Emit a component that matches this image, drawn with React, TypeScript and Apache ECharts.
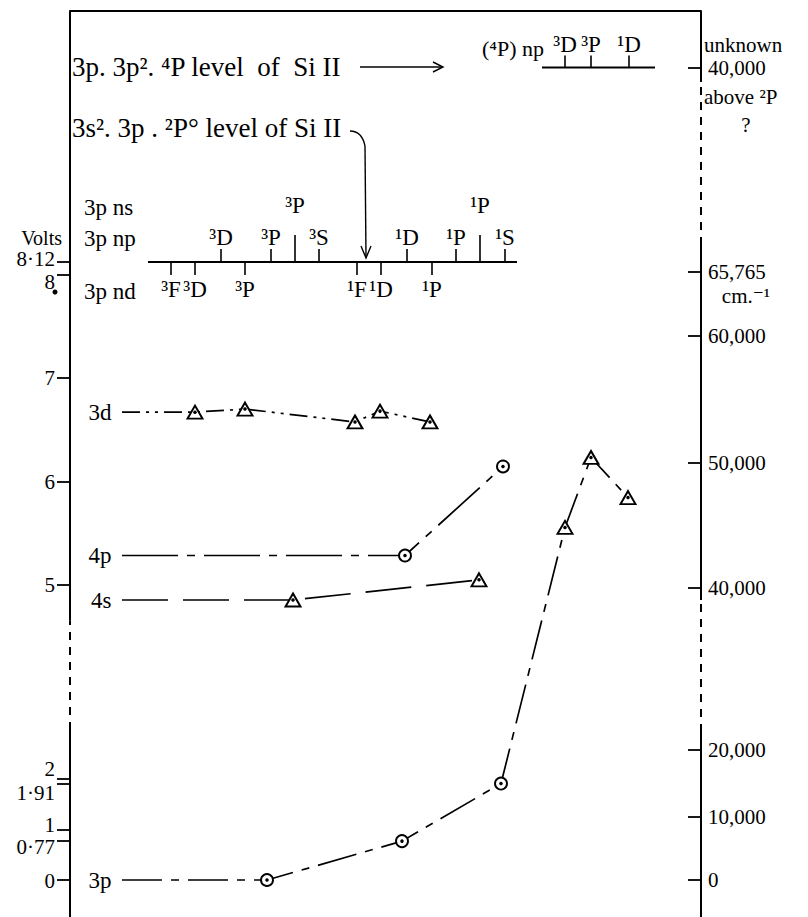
import React, { useEffect, useRef } from 'react';
import * as echarts from 'echarts';

const FONT = '"Liberation Serif", "DejaVu Serif", serif';

// ---------- data ----------
// Energies in volts. The figure uses two volt scales with a break between them.
const leftTickVolts = [8.12, 8, 7, 6, 5, 2, 1.91, 1, 0.77, 0];
const leftTickLabels = ['8·12', '8', '7', '6', '5', '2', '1·91', '1', '0·77', '0'];

// wave-number ticks (cm⁻¹), placed at their equivalent volt height
const rightTickLabels = ['0', '10,000', '20,000', '40,000', '50,000', '60,000', '65,765', '40,000'];
const rightTickVolts = [0, 1.248, 2.574, 4.97, 6.18, 7.406, 8.024, 10];

// series: term position (abscissa) and energy (volts)
const levelNames = ['3d', '4p', '4s', '3p'];
const lineStartX = 122;
const d3X = [195, 245, 355, 380, 430];
const d3V = [6.67, 6.7, 6.575, 6.68, 6.575];
const p4X = [405, 503];
const p4V = [5.285, 6.145];
const s4X = [293, 479];
const s4V = [4.855, 5.05];
const p3X = [267, 402, 501, 565, 591, 628];
const p3V = [0, 0.77, 1.91, 5.556, 6.232, 5.845];
const p3Markers = ['circle', 'circle', 'circle', 'triangle', 'triangle', 'triangle'];

// term scheme at the ionization limit
const ionizationV = 8.12;
const termLineX = [148, 517];
const ndTerms = ['³F', '³D', '³P', '¹F', '¹D', '¹P'];
const ndX = [171, 195, 245, 357, 381, 432];
const npTerms = ['³D', '³P', '³S', '¹D', '¹P', '¹S'];
const npX = [221, 271, 319, 407, 456, 505];
const nsTerms = ['³P', '¹P'];
const nsX = [295, 480];
const quartetV = 10;
const quartetLineX = [542, 655];
const quartetTerms = ['³D', '³P', '¹D'];
const quartetX = [565, 591, 629];

// axis breaks (volts)
const leftBreakV = [2.97, 4.66];
const rightBreaksV = [[2.93, 4.855], [8.285, 9.86]];

// ---------- scale ----------
function toD(v: number) {
  return v < 4 ? v * 50.5 : 295 + (v - 5) * 103.5;
}
const Y_MIN_D = -37;
const Y_MAX_D = 869;
const X_MIN = 70;
const X_MAX = 701;

const leftTickD = leftTickVolts.map(toD);
const rightTickD = rightTickVolts.map(toD);
const leftShift = [-3, 7, 0, 0, 0, -10, 9, -5, 6, 1];
// labels that sit right next to another one go on a second (label-only) axis
const secondRow = [1, 6, 8];
const rowA = leftTickD.map((_, i) => i).filter((i) => secondRow.indexOf(i) < 0);

function nearest(arr: number[], v: number) {
  let bi = 0;
  let bd = Infinity;
  arr.forEach((a, i) => {
    const d = Math.abs(a - v);
    if (d < bd) { bd = d; bi = i; }
  });
  return bi;
}

const leftRich: any = {};
leftShift.forEach((s, i) => {
  leftRich['l' + i] = {
    fontSize: 21, fontFamily: FONT, color: '#000', lineHeight: 17,
    padding: s < 0 ? [0, 0, -2 * s, 0] : [2 * s, 0, 0, 0],
  };
});

function leftLabelAxis(indices: number[], showTicks: boolean) {
  return {
    type: 'value', min: Y_MIN_D, max: Y_MAX_D, position: 'left', offset: 0,
    axisLine: { show: false, onZero: false },
    axisTick: {
      show: showTicks, length: 13, customValues: leftTickD,
      lineStyle: { color: '#000', width: 1.8 },
    },
    axisLabel: {
      show: true, customValues: indices.map((i) => leftTickD[i]), margin: 15, hideOverlap: false,
      showMinLabel: true, showMaxLabel: true,
      formatter: (v: number) => {
        const i = nearest(leftTickD, v);
        return '{l' + i + '|' + leftTickLabels[i] + '}';
      },
      rich: leftRich,
      fontSize: 21, fontFamily: FONT, color: '#000',
    },
    splitLine: { show: false },
  };
}

type Tick = { x: number; d: number; dir: number; len: number; gap: number; text: string };
const ticks: Tick[] = [
  ...npTerms.map((t, i) => ({ x: npX[i], d: toD(ionizationV), dir: 1, len: 13, gap: 0, text: t })),
  ...nsTerms.map((t, i) => ({ x: nsX[i], d: toD(ionizationV), dir: 1, len: 27, gap: 18, text: t })),
  ...ndTerms.map((t, i) => ({ x: ndX[i], d: toD(ionizationV), dir: -1, len: 13, gap: 3, text: t })),
  ...quartetTerms.map((t, i) => ({ x: quartetX[i], d: toD(quartetV), dir: 1, len: 12, gap: 0, text: t })),
];

const axisSegs: number[][] = [];
axisSegs.push([X_MIN, Y_MIN_D, toD(leftBreakV[0]), 0]);
axisSegs.push([X_MIN, toD(leftBreakV[0]), toD(leftBreakV[1]), 1]);
axisSegs.push([X_MIN, toD(leftBreakV[1]), Y_MAX_D, 0]);
{
  let last = Y_MIN_D;
  rightBreaksV.forEach(([a, b]) => {
    axisSegs.push([X_MAX, last, toD(a), 0]);
    axisSegs.push([X_MAX, toD(a), toD(b), 1]);
    last = toD(b);
  });
  axisSegs.push([X_MAX, last, Y_MAX_D, 0]);
}

function levelSeries(name: string, xs: number[], vs: number[], markers: string[], dash: number[]) {
  const data: any[] = [
    { value: [lineStartX, toD(vs[0])], symbol: 'none' },
    ...xs.map((x, i) => ({
      value: [x, toD(vs[i])],
      symbol: markers[i],
      symbolSize: markers[i] === 'triangle' ? [15, 13] : 12,
    })),
  ];
  return {
    type: 'line',
    name,
    data,
    clip: false,
    lineStyle: { color: '#000', width: 1.7, type: dash },
    itemStyle: { color: '#fff', borderColor: '#000', borderWidth: 1.9 },
    z: 3,
  };
}

const levelStarts = [d3V[0], p4V[0], s4V[0], p3V[0]];

const dotPoints: number[][] = [];
[[d3X, d3V], [p4X, p4V], [s4X, s4V], [p3X, p3V]].forEach(([xs, vs]) => {
  xs.forEach((x, i) => dotPoints.push([x, toD(vs[i])]));
});

function txt(text: string, x: number, y: number, fontSize: number, align = 'left') {
  return {
    type: 'text', x, y, z: 10,
    style: { text, fontSize, fontFamily: FONT, fill: '#000', align, verticalAlign: 'middle' },
  };
}

export default function App() {
  const ref = useRef<HTMLDivElement>(null);
  useEffect(() => {
    if (!ref.current) return;
    const chart = echarts.init(ref.current, null, { renderer: 'svg' });
    const option: any = {
      animation: false,
      backgroundColor: '#fff',
      grid: { left: X_MIN, right: 808 - X_MAX, top: 11, bottom: 0, containLabel: false },
      xAxis: {
        type: 'value', min: X_MIN, max: X_MAX, position: 'top',
        axisLine: { show: true, onZero: false, lineStyle: { color: '#000', width: 2 } },
        axisTick: { show: false }, axisLabel: { show: false }, splitLine: { show: false },
      },
      yAxis: [
        leftLabelAxis(rowA, true),
        {
          type: 'value', min: Y_MIN_D, max: Y_MAX_D, position: 'right',
          axisLine: { show: false, onZero: false },
          axisTick: { show: true, inside: true, length: 13, customValues: rightTickD, lineStyle: { color: '#000', width: 1.8 } },
          axisLabel: {
            show: true, customValues: rightTickD, margin: 7, hideOverlap: false,
            showMinLabel: true, showMaxLabel: true,
            formatter: (v: number) => rightTickLabels[nearest(rightTickD, v)],
            fontSize: 21, fontFamily: FONT, color: '#000',
          },
          splitLine: { show: false },
        },
        leftLabelAxis(secondRow, false),
      ],
      series: [
        {
          type: 'custom',
          name: 'axes',
          data: axisSegs.map((s) => [s[0], s[1]]),
          clip: false,
          renderItem: (params: any, api: any) => {
            const s = axisSegs[params.dataIndex];
            const p1 = api.coord([s[0], s[1]]);
            const p2 = api.coord([s[0], s[2]]);
            return {
              type: 'line',
              shape: { x1: p1[0], y1: p1[1], x2: p2[0], y2: p2[1] },
              style: { stroke: '#000', lineWidth: 2, lineDash: s[3] ? [8, 7] : null },
            };
          },
          z: 2,
        },
        {
          type: 'line', name: 'limit', clip: false, symbol: 'none',
          data: termLineX.map((x) => [x, toD(ionizationV)]),
          lineStyle: { color: '#000', width: 2 }, z: 2,
        },
        {
          type: 'line', name: 'quartet', clip: false, symbol: 'none',
          data: quartetLineX.map((x) => [x, toD(quartetV)]),
          lineStyle: { color: '#000', width: 2 }, z: 2,
        },
        {
          type: 'custom',
          name: 'terms',
          data: ticks.map((t) => [t.x, t.d]),
          clip: false,
          renderItem: (params: any, api: any) => {
            const t = ticks[params.dataIndex];
            const p = api.coord([t.x, t.d]);
            const y2 = p[1] - t.dir * t.len;
            const ly = t.dir > 0 ? y2 - t.gap : y2 + t.gap;
            return {
              type: 'group',
              children: [
                { type: 'line', shape: { x1: p[0], y1: p[1], x2: p[0], y2 }, style: { stroke: '#000', lineWidth: 1.6 } },
                {
                  type: 'text', x: p[0], y: ly,
                  style: {
                    text: t.text, fill: '#000', fontSize: 23, fontFamily: FONT,
                    align: 'center', verticalAlign: t.dir > 0 ? 'bottom' : 'top',
                  },
                },
              ],
            };
          },
          z: 2,
        },
        levelSeries('3d', d3X, d3V, d3X.map(() => 'triangle'), [18, 6, 3, 6, 3, 6]),
        levelSeries('4p', p4X, p4V, p4X.map(() => 'circle'), [56, 9, 8, 9]),
        levelSeries('4s', s4X, s4V, s4X.map(() => 'triangle'), [46, 15]),
        levelSeries('3p', p3X, p3V, p3Markers, [40, 9, 8, 9]),
        {
          type: 'scatter', name: 'dots', data: dotPoints, symbolSize: 3.5,
          itemStyle: { color: '#000', opacity: 1 }, z: 5, clip: false,
        },
        {
          type: 'scatter', name: 'level labels', clip: false, symbolSize: 1,
          itemStyle: { color: '#000', opacity: 0 },
          data: levelNames.map((n, i) => ({ value: [lineStartX, toD(levelStarts[i])], name: n })),
          label: {
            show: true, position: 'left', distance: 10,
            formatter: (p: any) => p.name,
            fontSize: 23, fontFamily: FONT, color: '#000', opacity: 1,
          },
          z: 6,
        },
      ],
      graphic: [
        txt('Volts', 62, 238, 20, 'right'),
        txt('3p ns', 84, 207, 23),
        txt('3p np', 84, 238, 23),
        txt('3p nd', 84, 291, 23),
        txt('3p. 3p². ⁴P level\u2002of\u2002Si II', 72, 67, 27),
        txt('3s². 3p . ²P° level of Si II', 72, 128, 27),
        txt('(⁴P) np', 482, 48, 22),
        txt('unknown', 704, 45, 21),
        txt('above ²P', 704, 97, 21),
        txt('?', 746, 125, 21, 'center'),
        txt('cm.⁻¹', 746, 296, 21, 'center'),
        { type: 'circle', shape: { cx: 55, cy: 292, r: 2.5 }, style: { fill: '#000' } },
        { type: 'line', shape: { x1: 360, y1: 67, x2: 442, y2: 67 }, style: { stroke: '#000', lineWidth: 1.4 } },
        { type: 'polyline', shape: { points: [[433, 62], [443, 67], [433, 72]] }, style: { stroke: '#000', fill: null, lineWidth: 1.4 } },
        { type: 'bezierCurve', shape: { x1: 350, y1: 131, x2: 365, y2: 146, cpx1: 362, cpy1: 131 }, style: { stroke: '#000', fill: null, lineWidth: 1.4 } },
        { type: 'line', shape: { x1: 365, y1: 146, x2: 366, y2: 257 }, style: { stroke: '#000', lineWidth: 1.4 } },
        { type: 'polyline', shape: { points: [[361, 246], [366, 258], [371, 246]] }, style: { stroke: '#000', fill: null, lineWidth: 1.4 } },
      ],
    };
    chart.setOption(option);
    return () => chart.dispose();
  }, []);
  return (
    <div
      ref={ref}
      style={{ position: 'fixed', left: 0, top: 0, width: 808, height: 917, background: '#fff' }}
    />
  );
}
